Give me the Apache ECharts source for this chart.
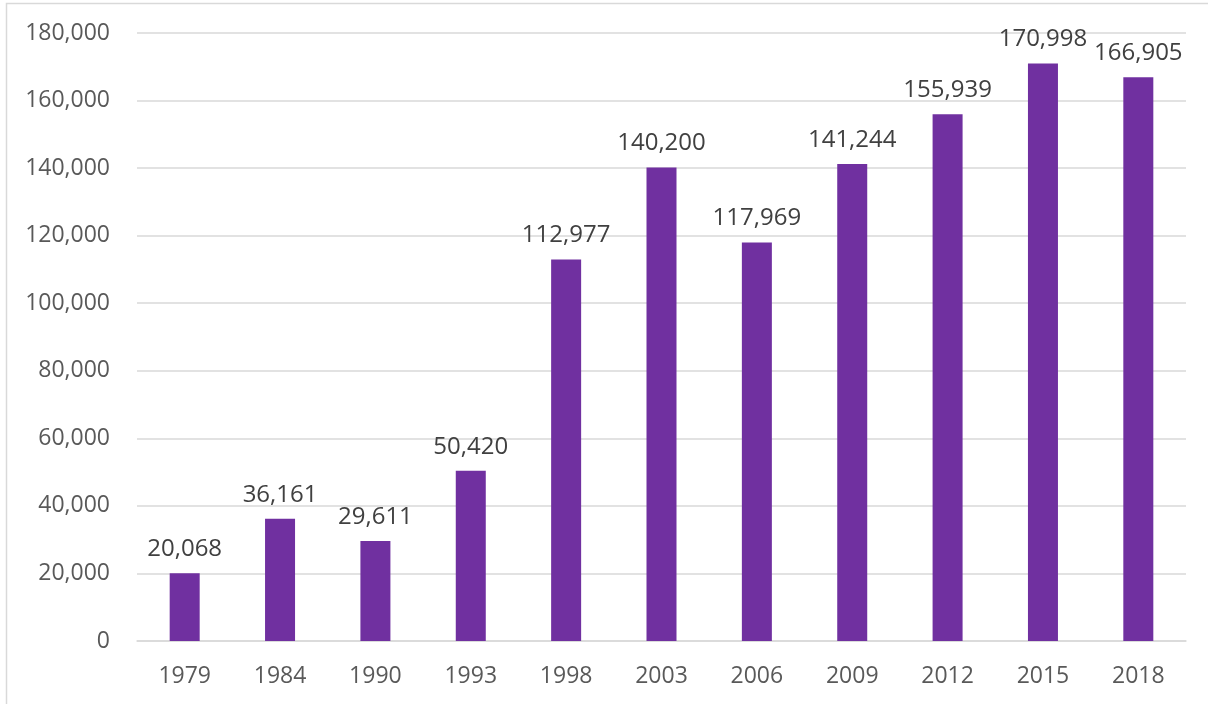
<!DOCTYPE html>
<html><head><meta charset="utf-8">
<script src="https://cdn.jsdelivr.net/npm/echarts@6/dist/echarts.min.js"></script>
<style>html,body{margin:0;padding:0;background:#fff}#c{width:1208px;height:704px}</style>
</head><body><div id="c"></div>
<script>
const categories = ['1979','1984','1990','1993','1998','2003','2006','2009','2012','2015','2018'];
const values = [20068, 36161, 29611, 50420, 112977, 140200, 117969, 141244, 155939, 170998, 166905];
const yTicks = {min: 0, max: 180000, interval: 20000};

const chart = echarts.init(document.getElementById('c'), null, {renderer: 'canvas'});
const font = '"Open Sans", "Liberation Sans", sans-serif';
chart.setOption({
  animation: false,
  backgroundColor: '#fff',
  graphic: [{type: 'rect', shape: {x: 6.5, y: 3.5, width: 1230, height: 730}, style: {fill: 'none', stroke: '#d9d9d9', lineWidth: 1.5}, silent: true}],
  grid: {left: 137, right: 22, top: 33, bottom: 63, containLabel: false},
  xAxis: {
    type: 'category', data: categories,
    axisLine: {show: true, lineStyle: {color: '#d9d9d9', width: 1.5}},
    axisTick: {show: false},
    axisLabel: {color: '#595959', fontSize: 23, fontFamily: font, margin: 24}
  },
  yAxis: {
    type: 'value', min: yTicks.min, max: yTicks.max, interval: yTicks.interval,
    axisLine: {show: false}, axisTick: {show: false},
    splitLine: {lineStyle: {color: '#d9d9d9', width: 1.5}},
    axisLabel: {color: '#595959', fontSize: 23, fontFamily: font, margin: 27,
      formatter: v => v.toLocaleString('en-US')}
  },
  series: [{
    type: 'bar', data: values, barWidth: 30,
    itemStyle: {color: '#7030A0'},
    label: {show: true, position: 'top', distance: 12, color: '#404040', fontSize: 24, fontFamily: font,
      formatter: p => p.value.toLocaleString('en-US')}
  }]
});
</script></body></html>
